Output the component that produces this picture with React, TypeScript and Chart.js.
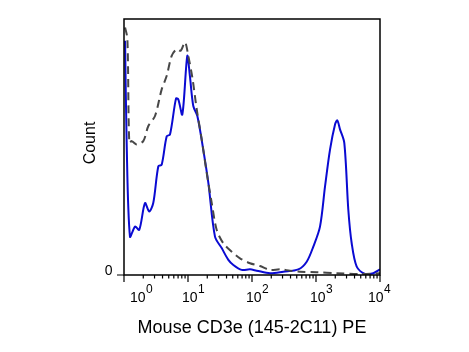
import React, { useEffect, useRef } from "react";
import { Chart, registerables } from "chart.js";

Chart.register(...registerables);

// Stained sample (blue solid)
const stainedX = [1.04, 1.1, 1.24, 1.49, 1.73, 2.13, 2.48, 2.87, 3.44, 3.88, 4.65, 5.23, 6.49, 7.05, 8.15, 9.75, 10.7, 12.1, 14.0, 17.3, 20.8, 26.4, 33.6, 42.7, 51.1, 69, 93, 118, 191, 308, 529, 716, 908, 1155, 1384, 1656, 1983, 2153, 2371, 2768, 3198, 3612, 4325, 5834, 7855, 10000];
const stainedY = [91.5, 51.8, 15.0, 18.9, 17.6, 28.1, 24.8, 28.2, 42.5, 43.1, 54.2, 54.9, 68.9, 68.6, 62.7, 85.6, 77.8, 66.0, 62.1, 49.0, 36.0, 15.0, 10.5, 5.9, 3.9, 2.0, 2.2, 1.7, 0.7, 1.3, 2.2, 5.2, 11.1, 18.9, 34.6, 49.0, 58.8, 60.4, 56.9, 51.6, 25.5, 12.4, 3.3, 0.4, 0.7, 2.2];

// Control (dashed grey)
const controlX = [1.04, 1.13, 1.21, 1.32, 1.58, 2.0, 2.4, 3.05, 3.88, 4.65, 5.56, 6.66, 7.69, 8.98, 10.1, 11.8, 13.7, 16.4, 19.6, 23.5, 28.1, 35.6, 48.2, 64.9, 93, 133, 191, 274, 392, 562, 1026, 2106, 4870, 10000];
const controlY = [96.7, 92.2, 51.6, 52.3, 51.0, 52.3, 58.2, 62.1, 72.5, 77.8, 85.6, 88.2, 87.6, 90.9, 85.6, 76.5, 64.7, 52.9, 39.9, 28.1, 17.6, 12.4, 9.1, 6.5, 4.6, 3.5, 2.0, 2.2, 1.7, 1.3, 1.1, 0.7, 0.4, 0.7];

const decades = [0, 1, 2, 3, 4];
const xTitle = "Mouse CD3e (145-2C11) PE";
const yTitle = "Count";
const yZeroLabel = "0";

const FONT = '"Liberation Sans", Arial, sans-serif';

const axesPlugin = {
  id: "flowAxes",
  afterDraw(chart: any) {
    const ctx = chart.ctx;
    const { left, right, top, bottom } = chart.chartArea;
    const xs = chart.scales.x;
    ctx.save();
    ctx.strokeStyle = "#000";
    ctx.lineWidth = 1.5;
    ctx.beginPath();
    ctx.rect(left, top, right - left, bottom - top);
    ctx.stroke();

    // x ticks
    ctx.lineWidth = 1.2;
    ctx.beginPath();
    decades.forEach((d) => {
      const px = xs.getPixelForValue(Math.pow(10, d));
      ctx.moveTo(px, bottom);
      ctx.lineTo(px, bottom + 7);
      if (d < 4) {
        for (let k = 2; k <= 9; k++) {
          const mx = xs.getPixelForValue(k * Math.pow(10, d));
          ctx.moveTo(mx, bottom);
          ctx.lineTo(mx, bottom + 3.5);
        }
      }
    });
    // y zero tick
    ctx.moveTo(left - 7, bottom);
    ctx.lineTo(left, bottom);
    ctx.stroke();

    // x tick labels
    ctx.fillStyle = "#000";
    ctx.textBaseline = "alphabetic";
    ctx.textAlign = "left";
    decades.forEach((d, i) => {
      const px = xs.getPixelForValue(Math.pow(10, d));
      const off = i === 0 ? 6 : i === decades.length - 1 ? -12 : -6;
      ctx.font = `14px ${FONT}`;
      ctx.fillText("10", px + off, bottom + 26.5);
      const w = ctx.measureText("10").width;
      ctx.font = `12px ${FONT}`;
      ctx.fillText(String(d), px + off + w + 0.5, bottom + 17.5);
    });

    // y zero label
    ctx.font = `14px ${FONT}`;
    ctx.textAlign = "right";
    ctx.fillText(yZeroLabel, left - 11.5, bottom);

    // x title
    ctx.font = `18px ${FONT}`;
    ctx.textAlign = "center";
    ctx.fillText(xTitle, 252, bottom + 58);

    // y title
    ctx.save();
    ctx.translate(95, 143);
    ctx.rotate(-Math.PI / 2);
    ctx.font = `16px ${FONT}`;
    ctx.textAlign = "center";
    ctx.fillText(yTitle, 0, 0);
    ctx.restore();

    ctx.restore();
  },
};

export default function App() {
  const ref = useRef<HTMLCanvasElement | null>(null);
  useEffect(() => {
    document.body.style.margin = "0";
    const chart = new Chart(ref.current!, {
      type: "line",
      data: {
        datasets: [
          {
            label: "Control",
            data: controlX.map((x, i) => ({ x, y: controlY[i] })),
            borderColor: "#474747",
            borderWidth: 2,
            borderDash: [8, 5],
            pointRadius: 0,
            tension: 0.3,
          },
          {
            label: "Stained",
            data: stainedX.map((x, i) => ({ x, y: stainedY[i] })),
            borderColor: "#0a0ad2",
            borderWidth: 2,
            pointRadius: 0,
            tension: 0.3,
          },
        ],
      },
      options: {
        responsive: false,
        animation: false,
        layout: { padding: { left: 124, right: 89, top: 19, bottom: 77 } },
        plugins: { legend: { display: false }, tooltip: { enabled: false } },
        scales: {
          x: { type: "logarithmic", min: 1, max: 10000, display: false },
          y: { type: "linear", min: 0, max: 100, display: false },
        },
      },
      plugins: [axesPlugin],
    });
    return () => chart.destroy();
  }, []);
  return (
    <div style={{ position: "fixed", left: 0, top: 0, width: 469, height: 352, background: "#fff" }}>
      <canvas ref={ref} width={469} height={352} />
    </div>
  );
}
